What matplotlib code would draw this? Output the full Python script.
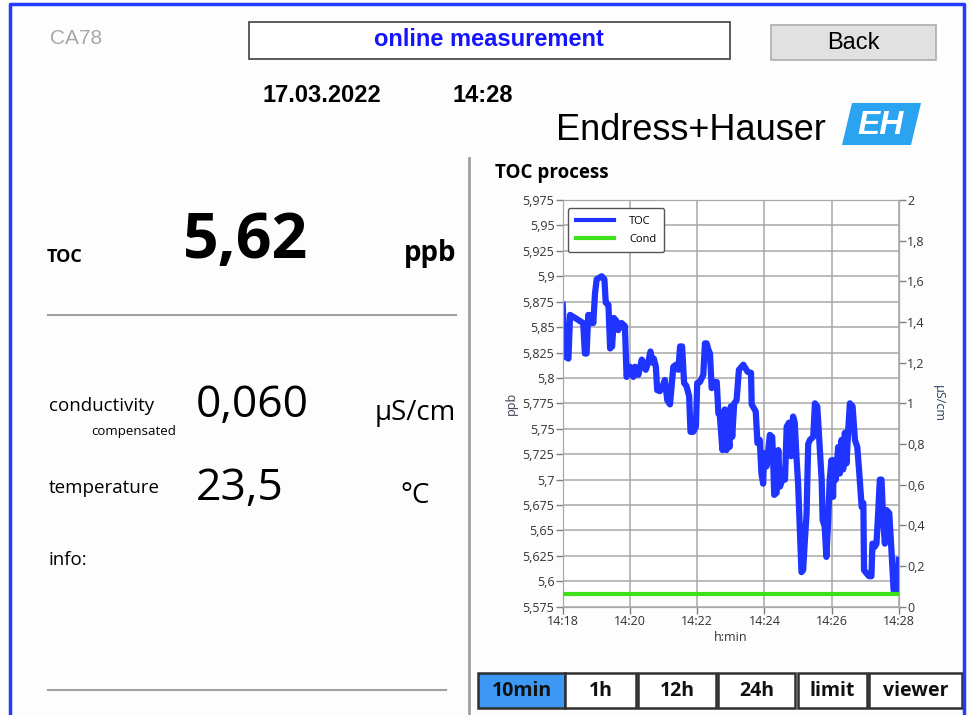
import matplotlib
matplotlib.use("Agg")
import matplotlib.pyplot as plt
from matplotlib.patches import Rectangle, Polygon
from matplotlib.lines import Line2D

# Data (time in minutes after 14:18)
toc_min = [0.00, 0.07, 0.17, 0.22, 0.37, 0.51, 0.61, 0.66, 0.71, 0.76, 0.81, 0.86, 0.91, 0.96,
           1.01, 1.16, 1.24, 1.28, 1.36, 1.41, 1.47, 1.52, 1.60, 1.65, 1.75, 1.85, 1.90, 2.00,
           2.10, 2.15, 2.25, 2.35, 2.40, 2.47, 2.54, 2.61, 2.67, 2.71, 2.77, 2.81, 2.89, 2.97,
           3.04, 3.11, 3.19, 3.24, 3.29, 3.37, 3.44, 3.49, 3.55, 3.61, 3.68, 3.76, 3.80, 3.88,
           3.96, 4.00, 4.08, 4.18, 4.23, 4.28, 4.33, 4.38, 4.43, 4.50, 4.58, 4.63, 4.67, 4.75,
           4.82, 4.87, 4.92, 4.96, 5.00, 5.04, 5.10, 5.17, 5.24, 5.37, 5.50, 5.60, 5.62, 5.74,
           5.79, 5.86, 5.91, 5.96, 5.99, 6.06, 6.11, 6.16, 6.23, 6.26, 6.29, 6.36, 6.41, 6.46,
           6.53, 6.61, 6.66, 6.73, 6.79, 6.85, 6.90, 6.95, 7.00, 7.06, 7.10, 7.15, 7.20, 7.25,
           7.30, 7.35, 7.45, 7.50, 7.57, 7.63, 7.70, 7.73, 7.79, 7.84, 7.89, 7.94, 7.99, 8.04,
           8.06, 8.12, 8.19, 8.24, 8.29, 8.34, 8.39, 8.44, 8.49, 8.54, 8.62, 8.69, 8.76, 8.82,
           8.89, 8.94, 8.96, 9.03, 9.11, 9.18, 9.21, 9.28, 9.33, 9.38, 9.43, 9.48, 9.53, 9.58,
           9.63, 9.71, 9.78, 9.84, 9.91, 9.96, 9.99]
toc_ppb = [5.872, 5.821, 5.819, 5.862, 5.859, 5.856, 5.854, 5.824, 5.824, 5.862, 5.854, 5.862, 5.854, 5.883,
           5.897, 5.900, 5.897, 5.874, 5.872, 5.829, 5.831, 5.859, 5.856, 5.847, 5.854, 5.851, 5.801, 5.811,
           5.801, 5.811, 5.803, 5.818, 5.815, 5.808, 5.815, 5.826, 5.815, 5.819, 5.811, 5.788, 5.787, 5.792,
           5.798, 5.778, 5.774, 5.792, 5.811, 5.813, 5.808, 5.831, 5.831, 5.795, 5.792, 5.782, 5.747, 5.747,
           5.752, 5.795, 5.796, 5.803, 5.834, 5.834, 5.828, 5.824, 5.790, 5.796, 5.796, 5.765, 5.764, 5.729,
           5.769, 5.729, 5.742, 5.732, 5.772, 5.742, 5.775, 5.778, 5.808, 5.813, 5.806, 5.805, 5.774, 5.767,
           5.736, 5.739, 5.706, 5.696, 5.726, 5.713, 5.729, 5.744, 5.742, 5.716, 5.685, 5.687, 5.729, 5.693,
           5.700, 5.700, 5.752, 5.756, 5.723, 5.762, 5.756, 5.723, 5.696, 5.645, 5.609, 5.611, 5.640, 5.665,
           5.735, 5.739, 5.742, 5.775, 5.772, 5.739, 5.700, 5.660, 5.654, 5.624, 5.657, 5.700, 5.719, 5.683,
           5.719, 5.700, 5.732, 5.706, 5.739, 5.710, 5.746, 5.716, 5.749, 5.775, 5.772, 5.739, 5.732, 5.706,
           5.673, 5.677, 5.611, 5.608, 5.605, 5.605, 5.637, 5.634, 5.637, 5.667, 5.700, 5.700, 5.660, 5.637,
           5.670, 5.667, 5.628, 5.591, 5.590, 5.591, 5.621]
cond_min = [0, 10]
cond_uscm = [0.060, 0.060]

x_ticks = [0, 2, 4, 6, 8, 10]
x_tick_labels = ["14:18", "14:20", "14:22", "14:24", "14:26", "14:28"]
ppb_ticks = [5.575 + 0.025 * i for i in range(17)]
cond_ticks = [0.2 * i for i in range(11)]

buttons = ["10min", "1h", "12h", "24h", "limit", "viewer"]
button_x = [(478, 565), (565, 636), (638, 716), (718, 795), (798, 867), (869, 962)]

W, H = 971, 715
SEGOE = ["Open Sans", "DejaVu Sans"]
ARIAL = ["Liberation Sans", "DejaVu Sans"]


def fmt_num(v, nd=3):
    s = f"{v:.{nd}f}".rstrip("0").rstrip(".")
    return s.replace(".", ",")


fig = plt.figure(figsize=(W / 100, H / 100), dpi=100, facecolor="white")

# Background layer in pixel coordinates
bg = fig.add_axes([0, 0, 1, 1])
bg.set_xlim(0, W)
bg.set_ylim(H, 0)
bg.axis("off")
bg.add_patch(Rectangle((0, 0), W, H, facecolor="#fdfdfd", edgecolor="none"))

# blue screen frame
bg.plot([10, 10, 964, 964], [H, 4, 4, H], color="#1f3cff", lw=2.5)

# header
bg.text(50, 38, "CA78", family=ARIAL, fontsize=15, color="#a8a8a8", va="center")
bg.add_patch(Rectangle((249, 22), 481, 37, facecolor="white", edgecolor="#404040", lw=1.2))
bg.text(489, 39, "online measurement", family=ARIAL, fontsize=17, fontweight="bold",
        color="#1414ff", ha="center", va="center")
bg.add_patch(Rectangle((771, 25), 165, 35, facecolor="#e1e1e1", edgecolor="#adadad", lw=1.2))
bg.text(853, 43, "Back", family=ARIAL, fontsize=17, color="black", ha="center", va="center")
bg.text(263, 96, "17.03.2022", family=ARIAL, fontsize=17, fontweight="bold", va="center")
bg.text(453, 96, "14:28", family=ARIAL, fontsize=17, fontweight="bold", va="center")

# logo
bg.text(556, 130, "Endress+Hauser", family=ARIAL, fontsize=26, va="center")
bg.add_patch(Polygon([(852, 103), (921, 103), (911, 145), (842, 145)], closed=True,
                     facecolor="#2aa3f0", edgecolor="none"))
bg.text(881, 125, "EH", family=ARIAL, fontsize=24, fontweight="bold", style="italic",
        color="white", ha="center", va="center")

# divider
bg.plot([469, 469], [158, H], color="#a0a0a0", lw=2)

# left panel values
bg.text(47, 257, "TOC", family=SEGOE, fontsize=13, fontweight="bold", va="center")
bg.text(183, 241, "5,62", family=SEGOE, fontsize=45, fontweight="bold", va="center")
bg.text(456, 253, "ppb", family=SEGOE, fontsize=20, fontweight="bold", ha="right", va="center")
bg.plot([48, 456], [315, 315], color="#a0a0a0", lw=1.5)

bg.text(49, 406, "conductivity", family=SEGOE, fontsize=13.5, va="center")
bg.text(176, 432, "compensated", family=SEGOE, fontsize=9.5, ha="right", va="center")
bg.text(196, 406, "0,060", family=SEGOE, fontsize=32, va="center")
bg.text(456, 413, "µS/cm", family=SEGOE, fontsize=20, ha="right", va="center")

bg.text(49, 488, "temperature", family=SEGOE, fontsize=13.5, va="center")
bg.text(196, 489, "23,5", family=SEGOE, fontsize=32, va="center")
bg.text(400, 496, "°C", family=SEGOE, fontsize=20, va="center")

bg.text(49, 560, "info:", family=SEGOE, fontsize=13.5, va="center")
bg.plot([48, 446], [690, 690], color="#a0a0a0", lw=1.5)

# chart title
bg.text(495, 173, "TOC process", family=SEGOE, fontsize=13.5, fontweight="bold", va="center")

# range buttons
for label, (x0, x1) in zip(buttons, button_x):
    face = "#3d97f5" if label == "10min" else "white"
    bg.add_patch(Rectangle((x0, 673), x1 - x0, 35, facecolor=face, edgecolor="#303030", lw=1.8))
    bg.text((x0 + x1) / 2, 691, label, family=SEGOE, fontsize=14, fontweight="bold",
            ha="center", va="center", color="#111111")

# Chart
left, right, top, bottom = 562.7, 899, 200, 606.7
ax = fig.add_axes([left / W, 1 - bottom / H, (right - left) / W, (bottom - top) / H])
ax.set_facecolor("white")
ax.plot(toc_min, toc_ppb, color="#1f35ff", lw=4.5, solid_joinstyle="round", zorder=3)
ax.set_xlim(0, 10)
ax.set_ylim(5.575, 5.975)
ax.set_xticks(x_ticks)
ax.set_xticklabels(x_tick_labels)
ax.set_yticks(ppb_ticks)
ax.set_yticklabels([fmt_num(v) for v in ppb_ticks])
ax.grid(True, color="#a8a8a8", lw=1.1)
for sp in ax.spines.values():
    sp.set_color("#a8a8a8")
ax.tick_params(colors="#808080", labelcolor="#333333", length=5, width=1, labelsize=9, pad=1)
for lbl in ax.get_xticklabels() + ax.get_yticklabels():
    lbl.set_family(SEGOE)
ax.set_xlabel("h:min", family=SEGOE, fontsize=9, color="#333333", labelpad=2)
ax.set_ylabel("ppb", family=SEGOE, fontsize=9, color="#3a4050", labelpad=3)

ax2 = ax.twinx()
ax2.plot(cond_min, cond_uscm, color="#3ee01a", lw=3, zorder=3)
ax2.set_ylim(0, 2)
ax2.set_yticks(cond_ticks)
ax2.set_yticklabels([fmt_num(v, 1) for v in cond_ticks])
ax2.tick_params(colors="#808080", labelcolor="#333333", length=5, width=1, labelsize=9, pad=1)
for lbl in ax2.get_yticklabels():
    lbl.set_family(SEGOE)
for sp in ax2.spines.values():
    sp.set_color("#a8a8a8")
ax2.set_ylabel("µS/cm", family=SEGOE, fontsize=9, color="#2b3f5c", rotation=270, labelpad=14)

handles = [Line2D([], [], color="#1f35ff", lw=3), Line2D([], [], color="#3ee01a", lw=3)]
leg = ax2.legend(handles, ["TOC", "Cond"], loc="upper left", bbox_to_anchor=(0.016, 0.98),
                 borderaxespad=0, fancybox=True, framealpha=1, edgecolor="#555555",
                 prop={"family": SEGOE, "size": 8}, handlelength=3.4, labelspacing=0.6,
                 borderpad=0.7, handletextpad=1.4)
leg.get_frame().set_linewidth(1)

fig.savefig("out.png", dpi=100, facecolor="white")
